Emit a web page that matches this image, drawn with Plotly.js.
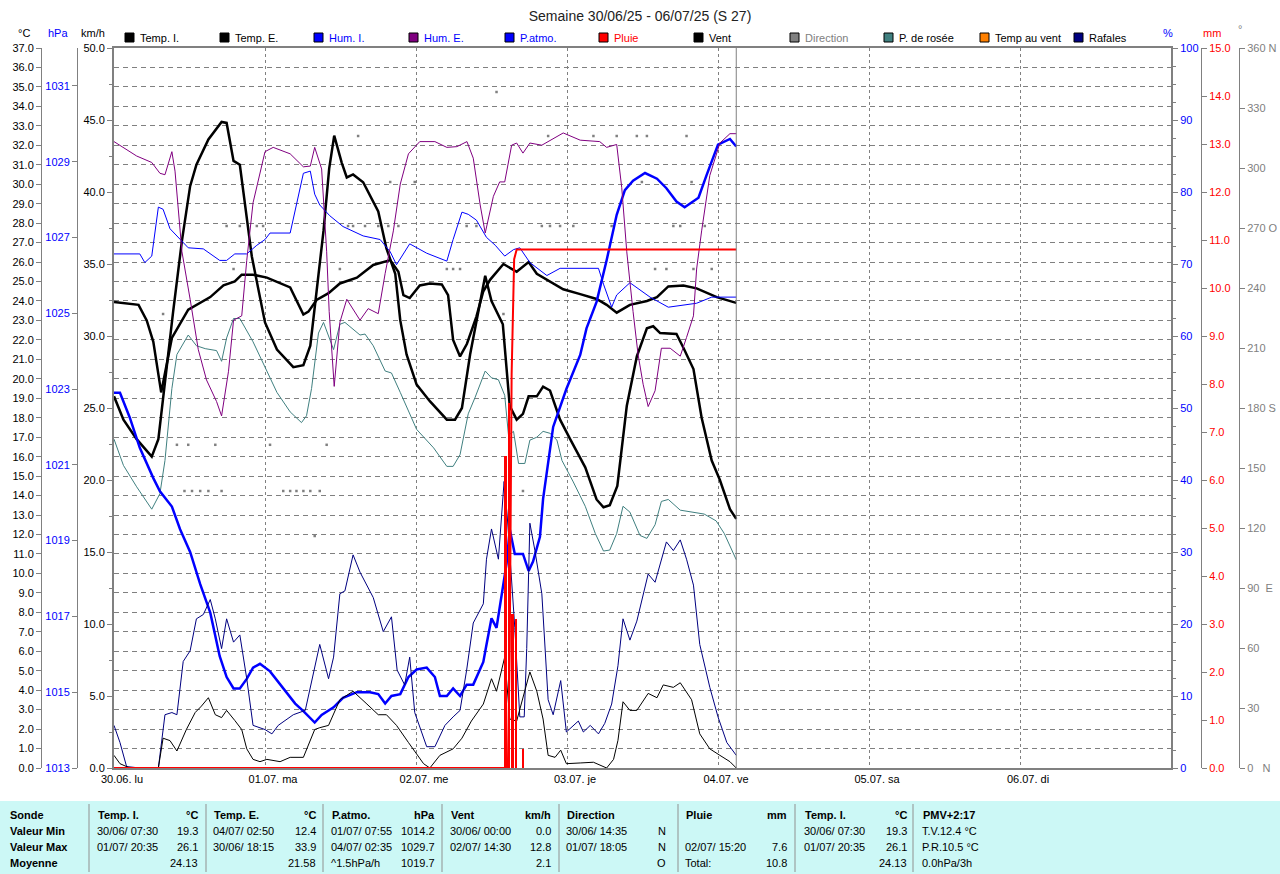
<!DOCTYPE html>
<html><head><meta charset="utf-8">
<script src="https://cdn.plot.ly/plotly-3.0.1.min.js"></script>
<style>html,body{margin:0;padding:0;background:#fff}#chart{width:1280px;height:874px}</style>
</head><body><div id="chart"></div>
<script>
// ---------- DATA (hours since 30/06 00:00) ----------
const dayTickHours = [0,24,48,72,96,120,144];
const dayTickLabels = ["30.06. lu","01.07. ma","02.07. me","03.07. je","04.07. ve","05.07. sa","06.07. di"];
const nowHour = 98.9;

const tempI_h = [0,3.9,5.2,6.25,7.5,9.2,11.8,15.3,17.4,19.2,20.3,22.1,24.3,28.0,30.1,30.9,32.2,34.1,35.9,38.6,41.2,43.9,45.2,46.0,47.0,48.6,50.2,52.1,53.1,53.9,55.0,56.1,57.6,58.7,59.8,61.9,64.0,65.9,67.2,69.3,71.4,74.1,76.7,78.3,79.9,82.0,84.7,86.3,88.1,90.5,92.6,95.8,98.9];
const tempI_v = [23.95,23.8,23.0,21.9,19.3,22.1,23.55,24.2,24.8,25.0,25.35,25.35,25.2,24.7,23.3,23.45,24.05,24.4,24.9,25.2,25.85,26.1,25.5,24.3,24.15,24.8,24.9,24.85,24.3,22.0,21.15,21.8,23.2,24.5,25.1,25.9,25.5,26.0,25.4,25.0,24.6,24.35,24.1,23.8,23.4,23.8,24.0,24.2,24.75,24.8,24.65,24.2,23.9];

const tempE_h = [0,1.5,3.6,6.0,7.05,8.4,9.4,10.8,12.1,13.1,15.0,17.1,17.9,19.0,20.0,21.9,24.0,25.9,28.5,30.1,31.2,32.2,33.3,34.2,35.0,36.2,37.0,38.0,39.6,42.0,43.3,44.7,45.5,46.5,48.1,50.2,52.9,54.2,55.3,56.6,57.6,59.0,60.0,61.8,62.9,64.0,65.0,65.9,67.2,68.2,69.3,70.9,72.5,74.9,76.7,77.8,78.8,80.0,81.5,83.1,84.7,85.7,86.8,89.4,90.5,92.1,93.4,95.0,96.3,97.9,98.9];
const tempE_v = [19.1,17.9,16.9,16.0,16.9,20.8,23.45,27.1,29.9,31.0,32.3,33.2,33.15,31.2,31.0,26.3,22.9,21.5,20.6,20.7,21.7,24.5,27.6,30.8,32.5,31.1,30.35,30.5,30.1,28.6,26.7,25.4,23.0,21.25,19.7,18.85,17.9,17.9,18.5,21.25,23.0,25.3,24.0,22.8,18.6,17.9,18.2,19.1,19.1,19.6,19.4,17.9,16.9,15.45,13.8,13.4,13.5,14.5,18.6,21.15,22.6,22.7,22.35,22.3,21.6,20.5,18.0,15.8,14.8,13.3,12.8];

const humE_h = [0,3.6,6.0,7.3,8.1,9.2,9.7,10.8,12.1,13.4,14.7,16.3,17.1,18.2,19.0,20.3,21.1,22.1,24.0,25.3,28.0,30.1,31.2,31.9,33.0,33.8,34.2,35.0,35.9,37.0,39.1,40.4,42.0,43.1,44.4,45.5,46.8,48.6,51.0,52.9,54.5,56.1,57.1,58.2,59.0,60.3,61.3,62.1,63.2,64.0,65.0,66.1,68.0,71.4,74.1,77.2,78.3,79.9,80.7,81.5,82.5,83.3,84.1,84.9,86.0,87.0,88.4,90.0,91.0,92.1,92.6,93.4,94.7,96.3,97.9,98.9];
const humE_v = [87.0,85.0,84.1,82.6,82.4,85.6,82.9,71.7,65.1,58.1,53.9,50.9,48.9,55.1,62.2,62.8,70.5,78.5,85.6,86.2,85.3,83.5,83.6,86.2,83.2,71.7,63.4,53.0,61.9,65.1,62.2,63.8,63.1,68.7,74.6,81.1,85.3,87.0,87.0,86.2,86.3,87.0,84.7,78.2,74.3,79.4,81.4,81.4,86.5,86.8,85.4,86.8,86.5,88.2,87.2,87.0,86.2,86.6,80.6,71.7,63.4,57.4,53.3,50.2,52.4,58.3,58.3,57.2,59.8,62.8,69.3,74.6,82.3,86.8,88.1,88.1];

const humI_h = [0,4.1,4.9,6.0,7.05,7.8,8.9,10.5,11.8,14.2,16.8,17.9,19.2,21.1,22.7,24.0,24.8,28.0,29.3,30.1,31.2,31.9,32.7,34.3,36.4,39.6,42.3,43.9,44.9,47.0,49.7,52.9,53.9,55.3,56.3,57.6,59.2,60.6,62.1,63.5,64.5,66.1,68.8,70.9,77.0,77.8,79.1,79.9,82.0,85.2,88.1,90.0,92.6,95.0,98.9];
const humI_v = [71.4,71.4,70.2,71.1,77.9,77.6,74.9,73.4,72.25,72.1,70.5,70.5,71.4,71.4,72.6,73.4,74.3,74.3,79.4,82.6,82.9,79.7,78.2,76.7,75.2,73.9,73.4,71.7,69.9,72.8,71.5,70.4,73.4,77.2,76.9,76.1,73.7,72.6,71.1,72.0,72.25,70.2,68.4,69.4,69.4,67.2,64.0,65.7,67.4,65.4,64.0,64.25,64.55,65.4,65.4];

const patmo_h = [0,0.95,2.5,4.1,6.25,7.3,9.2,10.5,12.1,13.7,15.3,16.8,17.9,19.0,20.0,21.1,22.1,23.2,24.8,26.9,28.8,30.1,31.9,33.0,34.9,36.4,38.6,40.7,42.0,43.1,44.1,45.5,46.8,48.1,49.7,51.0,51.8,52.9,53.9,55.0,56.05,57.1,58.7,59.2,60.0,60.8,61.6,62.4,62.9,63.7,65.0,65.9,66.6,67.7,68.2,69.8,71.9,74.1,75.1,76.7,78.3,79.9,81.2,82.5,84.4,86.3,87.8,89.4,90.7,92.9,94.2,96.0,97.9,98.9];
const patmo_v = [1022.9,1022.9,1022.25,1021.45,1020.65,1020.3,1019.9,1019.3,1018.7,1017.85,1017.1,1015.95,1015.4,1015.1,1015.1,1015.35,1015.65,1015.75,1015.55,1015.1,1014.7,1014.5,1014.2,1014.4,1014.6,1014.85,1015.0,1015.0,1014.95,1014.7,1014.9,1014.95,1015.4,1015.6,1015.65,1015.4,1014.9,1014.9,1015.1,1014.9,1015.2,1015.2,1015.8,1016.25,1016.95,1016.7,1017.5,1018.4,1019.3,1018.65,1018.65,1018.2,1018.45,1019.1,1020.1,1022.0,1023.0,1023.9,1024.6,1025.3,1026.4,1027.6,1028.25,1028.5,1028.7,1028.55,1028.3,1027.95,1027.8,1028.05,1028.65,1029.45,1029.6,1029.4];

const rosee_h = [0,1.5,3.6,6.0,7.3,8.1,9.2,10.0,11.8,13.1,14.5,16.3,17.1,17.9,19.0,20.0,22.1,24.0,25.9,28.0,29.8,30.6,31.4,32.5,33.3,34.9,35.9,36.7,39.1,39.9,41.2,43.1,44.1,45.5,48.1,50.8,52.9,53.9,55.0,56.3,57.4,59.0,60.0,61.1,62.1,62.7,63.5,64.3,65.3,66.1,67.2,68.2,69.3,70.4,71.2,73.0,74.9,76.5,77.8,78.8,79.9,80.9,82.0,83.6,84.7,86.0,87.0,88.1,90.0,93.8,95.7,97.0,98.9];
const rosee_v = [16.9,15.55,14.45,13.3,14.1,15.8,19.5,21.25,22.25,21.7,21.55,21.45,20.9,22.1,23.1,23.1,21.9,20.6,19.3,18.3,17.75,18.1,19.5,22.35,22.9,21.5,22.8,22.9,22.25,22.3,21.7,20.4,20.3,19.3,17.4,16.45,15.5,15.5,16.1,18.2,19.05,20.4,20.05,19.95,19.15,17.1,17.3,15.65,15.65,16.85,17.0,17.3,17.2,16.85,15.8,14.7,13.45,12.05,11.15,11.2,12.05,13.45,13.15,11.95,11.8,12.5,13.7,13.8,13.25,13.05,12.7,12.05,10.7];

const rafales_h = [0,0.95,2.0,4.1,7.05,8.1,9.2,10.0,11.0,12.1,13.1,14.2,15.3,16.1,17.1,17.9,19.0,20.0,21.1,22.1,24.0,25.1,26.1,28.5,30.4,31.4,32.7,34.1,34.9,35.9,36.7,38.0,39.1,41.2,42.8,44.1,45.0,46.2,47.0,47.8,49.7,51.0,52.6,53.9,55.0,56.05,57.1,58.7,59.2,60.0,61.1,62.0,62.5,63.7,64.5,65.2,65.6,66.1,66.9,68.0,69.0,69.8,71.0,71.9,73.8,74.6,75.7,77.0,78.0,79.1,80.1,80.9,82.0,83.1,84.9,86.0,87.8,88.9,90.0,91.0,92.1,93.1,94.7,96.0,97.4,98.9];
const rafales_v = [2.96,1.77,0.1,0,0,3.7,3.85,3.7,7.4,8.14,10.36,10.66,11.7,10.36,8.29,10.36,8.74,9.24,6.2,2.96,2.67,2.37,2.96,3.7,4.0,6.07,8.58,6.2,7.7,12.1,12.3,14.8,13.6,11.84,9.47,10.5,6.8,5.77,7.7,3.85,1.48,1.48,2.96,3.55,4.0,6.8,10.07,11.4,14.5,16.6,14.5,19.9,17.5,9.77,3.55,3.55,8.3,17.0,15.1,12.1,4.74,3.7,6.07,2.5,3.26,2.5,2.96,2.37,3.1,4.44,7.1,10.36,8.88,10.2,13.47,12.9,15.7,15.1,15.84,14.5,12.7,8.58,5.6,3.55,1.77,0.88];

const vent_h = [0,0.95,2.5,7.05,7.8,8.9,10.0,11.5,12.9,13.9,15.0,16.1,17.1,17.9,19.2,20.3,21.1,22.1,23.2,24.3,26.4,28.0,30.1,31.9,32.7,34.1,35.9,38.0,40.2,42.0,43.3,44.9,46.8,49.2,50.2,51.8,53.9,55.3,56.8,58.7,60.0,60.8,62.1,62.9,64.0,64.8,66.1,67.2,68.2,69.0,70.1,71.0,71.9,74.1,76.2,78.3,79.4,80.1,80.9,82.0,83.1,84.9,86.3,87.3,88.9,90.0,91.8,93.1,94.7,96.3,97.9,98.9];
const vent_v = [0.88,0.3,0,0,2.07,1.9,1.18,2.67,3.85,4.3,4.88,3.7,3.5,4.0,3.3,2.67,1.33,0.6,0.44,0.6,0.44,0.74,0.74,2.67,2.8,2.96,4.74,5.33,4.44,3.7,3.7,2.96,1.77,0.3,0,0.88,1.33,2.07,3.26,4.44,6.2,5.33,7.7,3.4,3.26,4.6,6.67,5.33,3.4,0.88,0.74,1.24,0.3,0.35,0.4,0,0.6,1.92,4.6,4.0,4.0,5.18,4.88,5.77,5.6,5.92,4.74,2.37,1.33,0.88,0.44,0];

const dir_h = [7.8,10.0,11.8,16.1,24.8,33.8,11.2,12.4,13.7,15.0,17.1,26.9,28.0,29.0,30.1,31.2,32.7,65.0,31.9,17.9,20.0,22.7,23.7,37.2,38.0,39.9,42.0,43.6,45.2,56.05,57.6,68.0,69.3,70.9,73.0,79.1,88.9,90.0,93.9,19.0,35.9,52.9,53.9,55.0,86.0,87.8,92.1,95.0,38.8,69.0,76.2,79.9,83.1,84.7,91.0,43.9,47.8,83.9,91.8,60.8,61.9];
const dir_v = [227,161.6,161.6,161.6,161.6,161.6,138.5,138.5,138.5,138.5,138.5,138.5,138.5,138.5,138.5,138.5,138.5,138.5,116,271,271,271,271,271,271,271,271,271,271,271,271,271,271,271,271,271,271,271,271,249.5,249.5,249.5,249.5,249.5,249.5,249.5,249.5,249.5,316,316,316,316,316,316,316,293,293,293,293,338,227];

const pluieBar_h = [62.2,62.8,63.3,63.9,65.0];
const pluieBar_v = [6.5,7.6,3.2,3.1,0.4];
const pluieCum_h = [0,62.6,62.9,63.2,63.6,64.0,98.9];
const pluieCum_v = [0,0,2.5,8.2,10.6,10.8,10.8];

// legend & table texts
const legendNames = ["Temp. I.","Temp. E.","Hum. I.","Hum. E.","P.atmo.","Pluie","Vent","Direction","P. de rosée","Temp au vent","Rafales"];
const tableRowHeads = ["Sonde","Valeur Min","Valeur Max","Moyenne"];
const tableColHeads = ["Temp. I.","Temp. E.","P.atmo.","Vent","Direction","Pluie","Temp. I.","PMV+2:17"];
const tableColUnits = ["°C","°C","hPa","km/h","","mm","°C",""];
const tableLeftTexts = [
  ["30/06/ 07:30","01/07/ 20:35",""],
  ["04/07/ 02:50","30/06/ 18:15",""],
  ["01/07/ 07:55","04/07/ 02:35","^1.5hPa/h"],
  ["30/06/ 00:00","02/07/ 14:30",""],
  ["30/06/ 14:35","01/07/ 18:05",""],
  ["","02/07/ 15:20","Total:"],
  ["30/06/ 07:30","01/07/ 20:35",""],
  ["T.V.12.4 °C","P.R.10.5 °C","0.0hPa/3h"]
];
const tableRightTexts = [
  ["19.3","26.1","24.13"],
  ["12.4","33.9","21.58"],
  ["1014.2","1029.7","1019.7"],
  ["0.0","12.8","2.1"],
  ["N","N","O"],
  ["","7.6","10.8"],
  ["19.3","26.1","24.13"],
  ["","",""]
];

// ---------- STYLE / LAYOUT ----------
const W=1280, PT=48, PB=768;
const PX = x => x/W;
const PY = y => (PB-y)/(PB-PT);
const FONT = "Liberation Sans, Arial, sans-serif";
const GRAY = "#808080";
const C = {tempI:"#000000", tempE:"#000000", humI:"#0000FF", humE:"#800080", patmo:"#0000FF", pluie:"#FF0000",
           vent:"#000000", dir:"#808080", rosee:"#408080", tvent:"#FF8000", rafales:"#000080"};
const legendSquare = [C.tempI,C.tempE,C.humI,C.humE,C.patmo,C.pluie,C.vent,C.dir,C.rosee,C.tvent,C.rafales];
const legendText = ["#000","#000","#0000FF","#0000FF","#0000FF","#FF0000","#000",GRAY,"#000","#000","#000"];
const legendX = [125,220,314,409,505,599,694,790,884,980,1074];

const traces = [
  {x:dir_h, y:dir_v, yaxis:'y6', mode:'markers', type:'scatter', marker:{symbol:'square', size:2.5, color:C.dir}, hoverinfo:'skip'},
  {x:rafales_h, y:rafales_v, yaxis:'y3', mode:'lines', type:'scatter', line:{color:C.rafales, width:1}},
  {x:vent_h, y:vent_v, yaxis:'y3', mode:'lines', type:'scatter', line:{color:C.vent, width:1}},
  {x:rosee_h, y:rosee_v, yaxis:'y', mode:'lines', type:'scatter', line:{color:C.rosee, width:1}},
  {x:humI_h, y:humI_v, yaxis:'y4', mode:'lines', type:'scatter', line:{color:C.humI, width:1}},
  {x:humE_h, y:humE_v, yaxis:'y4', mode:'lines', type:'scatter', line:{color:C.humE, width:1}},
  {x:patmo_h, y:patmo_v, yaxis:'y2', mode:'lines', type:'scatter', line:{color:C.patmo, width:2.5}},
  {x:tempE_h, y:tempE_v, yaxis:'y', mode:'lines', type:'scatter', line:{color:C.tempE, width:2.5}},
  {x:tempI_h, y:tempI_v, yaxis:'y', mode:'lines', type:'scatter', line:{color:C.tempI, width:2.5}},
  {x:pluieBar_h, y:pluieBar_v, yaxis:'y5', type:'bar', width:0.4, marker:{color:C.pluie, line:{width:0}}},
  {x:pluieCum_h, y:pluieCum_v, yaxis:'y5', mode:'lines', type:'scatter', line:{color:C.pluie, width:2}}
];

const tickFont = c => ({family:FONT, size:11, color:c});
const baseY = {showgrid:false, zeroline:false, showline:true, linecolor:GRAY, linewidth:1, ticks:'outside', ticklen:5, tickcolor:GRAY, fixedrange:true};

const layout = {
  width:1280, height:874, paper_bgcolor:'#fff', plot_bgcolor:'#fff',
  margin:{l:0,r:0,t:PT,b:874-PB}, showlegend:false, bargap:0,
  font:{family:FONT, size:11, color:'#000'},
  title:{text:"Semaine 30/06/25 - 06/07/25 (S 27)", x:0.5, xanchor:'center', y:1-16/874, yanchor:'middle', font:{family:FONT, size:14, color:'#222'}},
  xaxis:{domain:[PX(114),PX(1171)], range:[0,168], tickvals:dayTickHours, ticktext:dayTickLabels, showgrid:true, gridcolor:GRAY, griddash:'dot', gridwidth:1,
         zeroline:false, showline:true, mirror:true, linecolor:GRAY, linewidth:2, ticks:'', ticklabelshift:8, tickfont:tickFont('#000'), fixedrange:true},
  yaxis:Object.assign({}, baseY, {range:[0,37], anchor:'free', position:PX(41), side:'left', dtick:1, tick0:0, tickformat:'.1f', tickfont:tickFont('#000'),
         showgrid:true, gridcolor:GRAY, griddash:'5px,4px', gridwidth:1}),
  yaxis2:Object.assign({}, baseY, {range:[1013,1032], overlaying:'y', anchor:'free', position:PX(77), side:'left', tickvals:[1013,1015,1017,1019,1021,1023,1025,1027,1029,1031], tickfont:tickFont('#0000FF')}),
  yaxis3:Object.assign({}, baseY, {range:[0,50], overlaying:'y', anchor:'x', side:'left', dtick:5, tick0:0, tickformat:'.1f', linewidth:2, tickfont:tickFont('#000'),
         minor:{dtick:2.5, ticks:'outside', ticklen:3, tickcolor:GRAY, showgrid:false}}),
  yaxis4:Object.assign({}, baseY, {range:[0,100], overlaying:'y', anchor:'x', side:'right', dtick:10, tick0:0, linewidth:2, tickfont:tickFont('#0000FF'),
         minor:{dtick:2.5, ticks:'outside', ticklen:3, tickcolor:GRAY, showgrid:false}}),
  yaxis5:Object.assign({}, baseY, {range:[0,15], overlaying:'y', anchor:'free', position:PX(1201), side:'right', dtick:1, tick0:0, tickformat:'.1f', tickfont:tickFont('#FF0000')}),
  yaxis6:Object.assign({}, baseY, {range:[0,360], overlaying:'y', anchor:'free', position:PX(1239), side:'right',
         tickvals:[0,30,60,90,120,150,180,210,240,270,300,330,360], ticktext:["0   N","30","60","90  E","120","150","180 S","210","240","270 O","300","330","360 N"], tickfont:tickFont(GRAY)}),
  shapes:[], annotations:[]
};

// now-marker line
layout.shapes.push({type:'line', xref:'x', yref:'paper', x0:nowHour, x1:nowHour, y0:0, y1:1, line:{color:GRAY, width:1}});

// axis unit headers
const unitHdr = [["°C",24,"#000"],["hPa",58,"#0000FF"],["km/h",93,"#000"],["%",1168,"#0000FF"],["mm",1212,"#FF0000"],["°",1240,GRAY]];
unitHdr.forEach(u => layout.annotations.push({xref:'paper', yref:'paper', x:PX(u[1]), y:PY(u[0]==="°"?29:33), text:u[0], showarrow:false, xanchor:'center', yanchor:'middle', font:{family:FONT,size:11,color:u[2]}}));

// legend
legendNames.forEach((n,i) => {
  const x0 = legendX[i];
  layout.shapes.push({type:'rect', xref:'paper', yref:'paper', x0:PX(x0), x1:PX(x0+9), y0:PY(42), y1:PY(33), fillcolor:legendSquare[i], line:{color:'#000', width:1}});
  layout.annotations.push({xref:'paper', yref:'paper', x:PX(x0+13), y:PY(38), text:n, showarrow:false, xanchor:'left', yanchor:'middle', font:{family:FONT,size:11,color:legendText[i]}});
});

// bottom table
layout.shapes.push({type:'rect', xref:'paper', yref:'paper', x0:0, x1:1, y0:PY(874), y1:PY(801), fillcolor:'#CCF8F6', line:{width:0}, layer:'below'});
const sepX = [89,206,323,442,559,678,795,913];
const colL = [96,212,330,449,565,684,803,921];
const colR = [200,318,437,553,668,789,909,null];
const rowY = [815,831,847,863];
sepX.forEach(x => layout.shapes.push({type:'line', xref:'paper', yref:'paper', x0:PX(x), x1:PX(x), y0:PY(804), y1:PY(872), line:{color:'#909090', width:1}}));
const txt = (x,y,t,anchor,bold) => layout.annotations.push({xref:'paper', yref:'paper', x:PX(x), y:PY(y), text:bold?'<b>'+t+'</b>':t, showarrow:false, xanchor:anchor, yanchor:'middle', font:{family:FONT,size:11,color:'#000'}});
tableRowHeads.forEach((t,r) => txt(8,rowY[r],t,'left',true));
tableColHeads.forEach((t,c) => {
  txt(colL[c],rowY[0],t,'left',true);
  if (tableColUnits[c]) txt(colR[c],rowY[0],tableColUnits[c],'right',true);
  for (let r=0;r<3;r++){
    if (tableLeftTexts[c][r]) txt(colL[c]-1,rowY[r+1],tableLeftTexts[c][r],'left',false);
    if (tableRightTexts[c][r]) txt(colR[c],rowY[r+1],tableRightTexts[c][r],'right',false);
  }
});

Plotly.newPlot('chart', traces, layout, {displayModeBar:false, staticPlot:true});
</script></body></html>
